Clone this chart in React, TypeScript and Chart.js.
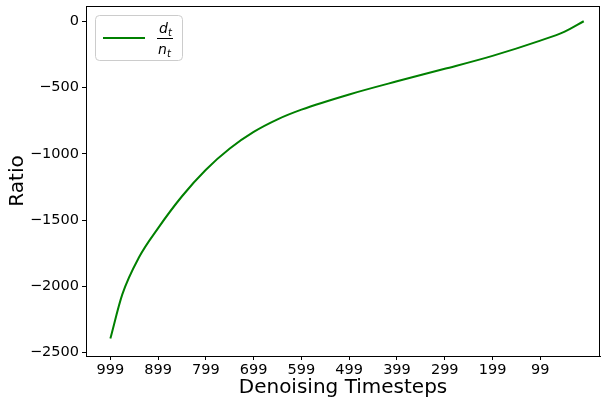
import React, { useEffect, useRef } from "react";
import { Chart, registerables } from "chart.js";

Chart.register(...registerables);

const stepIdx = [0, 25, 60, 100, 150, 200, 250, 300, 350, 400, 500, 600, 700, 800, 900, 950, 991];
const ratio = [-2393, -2060, -1780, -1560, -1320, -1120, -960, -835, -740, -667, -552, -453, -359, -261, -146, -80, 0];
const xTickPos = [0, 100, 200, 300, 400, 500, 600, 700, 800, 900];
const xTickLabels = ["999", "899", "799", "699", "599", "499", "399", "299", "199", "99"];
const yTicks = [0, -500, -1000, -1500, -2000, -2500];

const FONT = "'DejaVu Sans', sans-serif";

const framePlugin = {
  id: "frame",
  afterDraw(chart: any) {
    const { ctx, chartArea } = chart;
    ctx.save();
    ctx.strokeStyle = "#000";
    ctx.lineWidth = 1;
    ctx.strokeRect(chartArea.left + 0.5, chartArea.top + 0.5, chartArea.right - chartArea.left - 1, chartArea.bottom - chartArea.top);
    // legend
    const bx = 95.5, by = 15.5, bw = 87, bh = 45, r = 4;
    ctx.beginPath();
    ctx.moveTo(bx + r, by);
    ctx.lineTo(bx + bw - r, by);
    ctx.quadraticCurveTo(bx + bw, by, bx + bw, by + r);
    ctx.lineTo(bx + bw, by + bh - r);
    ctx.quadraticCurveTo(bx + bw, by + bh, bx + bw - r, by + bh);
    ctx.lineTo(bx + r, by + bh);
    ctx.quadraticCurveTo(bx, by + bh, bx, by + bh - r);
    ctx.lineTo(bx, by + r);
    ctx.quadraticCurveTo(bx, by, bx + r, by);
    ctx.closePath();
    ctx.fillStyle = "rgba(255,255,255,0.8)";
    ctx.fill();
    ctx.strokeStyle = "#cccccc";
    ctx.stroke();
    ctx.beginPath();
    ctx.moveTo(103, 38);
    ctx.lineTo(145, 38);
    ctx.strokeStyle = "#008000";
    ctx.lineWidth = 2;
    ctx.stroke();
    // fraction
    ctx.fillStyle = "#000";
    ctx.textBaseline = "alphabetic";
    ctx.textAlign = "left";
    ctx.font = "italic 14px " + FONT;
    ctx.fillText("d", 159, 33);
    ctx.fillText("n", 158, 54);
    ctx.font = "italic 10px " + FONT;
    ctx.fillText("t", 168, 36);
    ctx.fillText("t", 167, 57);
    ctx.beginPath();
    ctx.moveTo(157, 38.5);
    ctx.lineTo(173, 38.5);
    ctx.strokeStyle = "#000";
    ctx.lineWidth = 1;
    ctx.stroke();
    ctx.restore();
  },
};

export default function App() {
  const ref = useRef<HTMLCanvasElement>(null);
  useEffect(() => {
    if (!ref.current) return;
    const data = stepIdx.map((x, i) => ({ x, y: ratio[i] }));
    const chart = new Chart(ref.current, {
      type: "line",
      data: {
        datasets: [
          {
            label: "d_t / n_t",
            data,
            borderColor: "#008000",
            borderWidth: 2,
            pointRadius: 0,
            cubicInterpolationMode: "monotone",
            fill: false,
          },
        ],
      },
      options: {
        animation: false,
        responsive: false,
        maintainAspectRatio: false,
        layout: { padding: { top: 6, right: 1, left: 0, bottom: 0 } },
        plugins: { legend: { display: false }, tooltip: { enabled: false } },
        scales: {
          x: {
            type: "linear",
            min: -51,
            max: 1025,
            afterBuildTicks: (scale: any) => {
              scale.ticks = xTickPos.map((v) => ({ value: v }));
            },
            afterFit: (scale: any) => {
              scale.height = 46;
              scale.paddingLeft = 0;
              scale.paddingRight = 0;
            },
            ticks: {
              autoSkip: false,
              maxRotation: 0,
              padding: 2,
              color: "#000",
              font: { family: FONT, size: 14.5 },
              callback: (v: any) => {
                const i = xTickPos.indexOf(Number(v));
                return i >= 0 ? xTickLabels[i] : "";
              },
            },
            grid: { display: true, drawOnChartArea: false, drawTicks: true, tickLength: 4, color: "#000" },
            border: { display: true, color: "#000" },
            title: {
              display: true,
              text: "Denoising Timesteps",
              color: "#000",
              font: { family: FONT, size: 20 },
              padding: { top: 0, bottom: 2 },
            },
          },
          y: {
            type: "linear",
            min: -2525,
            max: 115,
            afterBuildTicks: (scale: any) => {
              scale.ticks = yTicks.map((v) => ({ value: v }));
            },
            afterFit: (scale: any) => {
              scale.width = 86;
              scale.paddingTop = 0;
              scale.paddingBottom = 0;
            },
            ticks: {
              autoSkip: false,
              padding: 3,
              color: "#000",
              font: { family: FONT, size: 14.5 },
              callback: (v: any) => String(v).replace("-", "\u2212"),
            },
            grid: { display: true, drawOnChartArea: false, drawTicks: true, tickLength: 4, color: "#000" },
            border: { display: true, color: "#000" },
            title: {
              display: true,
              text: "Ratio",
              color: "#000",
              font: { family: FONT, size: 20 },
              padding: { top: 6, bottom: 0 },
            },
          },
        },
      },
      plugins: [framePlugin],
    } as any);
    return () => chart.destroy();
  }, []);
  return (
    <div style={{ position: "fixed", left: 0, top: 0, width: 601, height: 402, background: "#fff" }}>
      <canvas ref={ref} width={601} height={402} style={{ width: 601, height: 402 }} />
    </div>
  );
}
